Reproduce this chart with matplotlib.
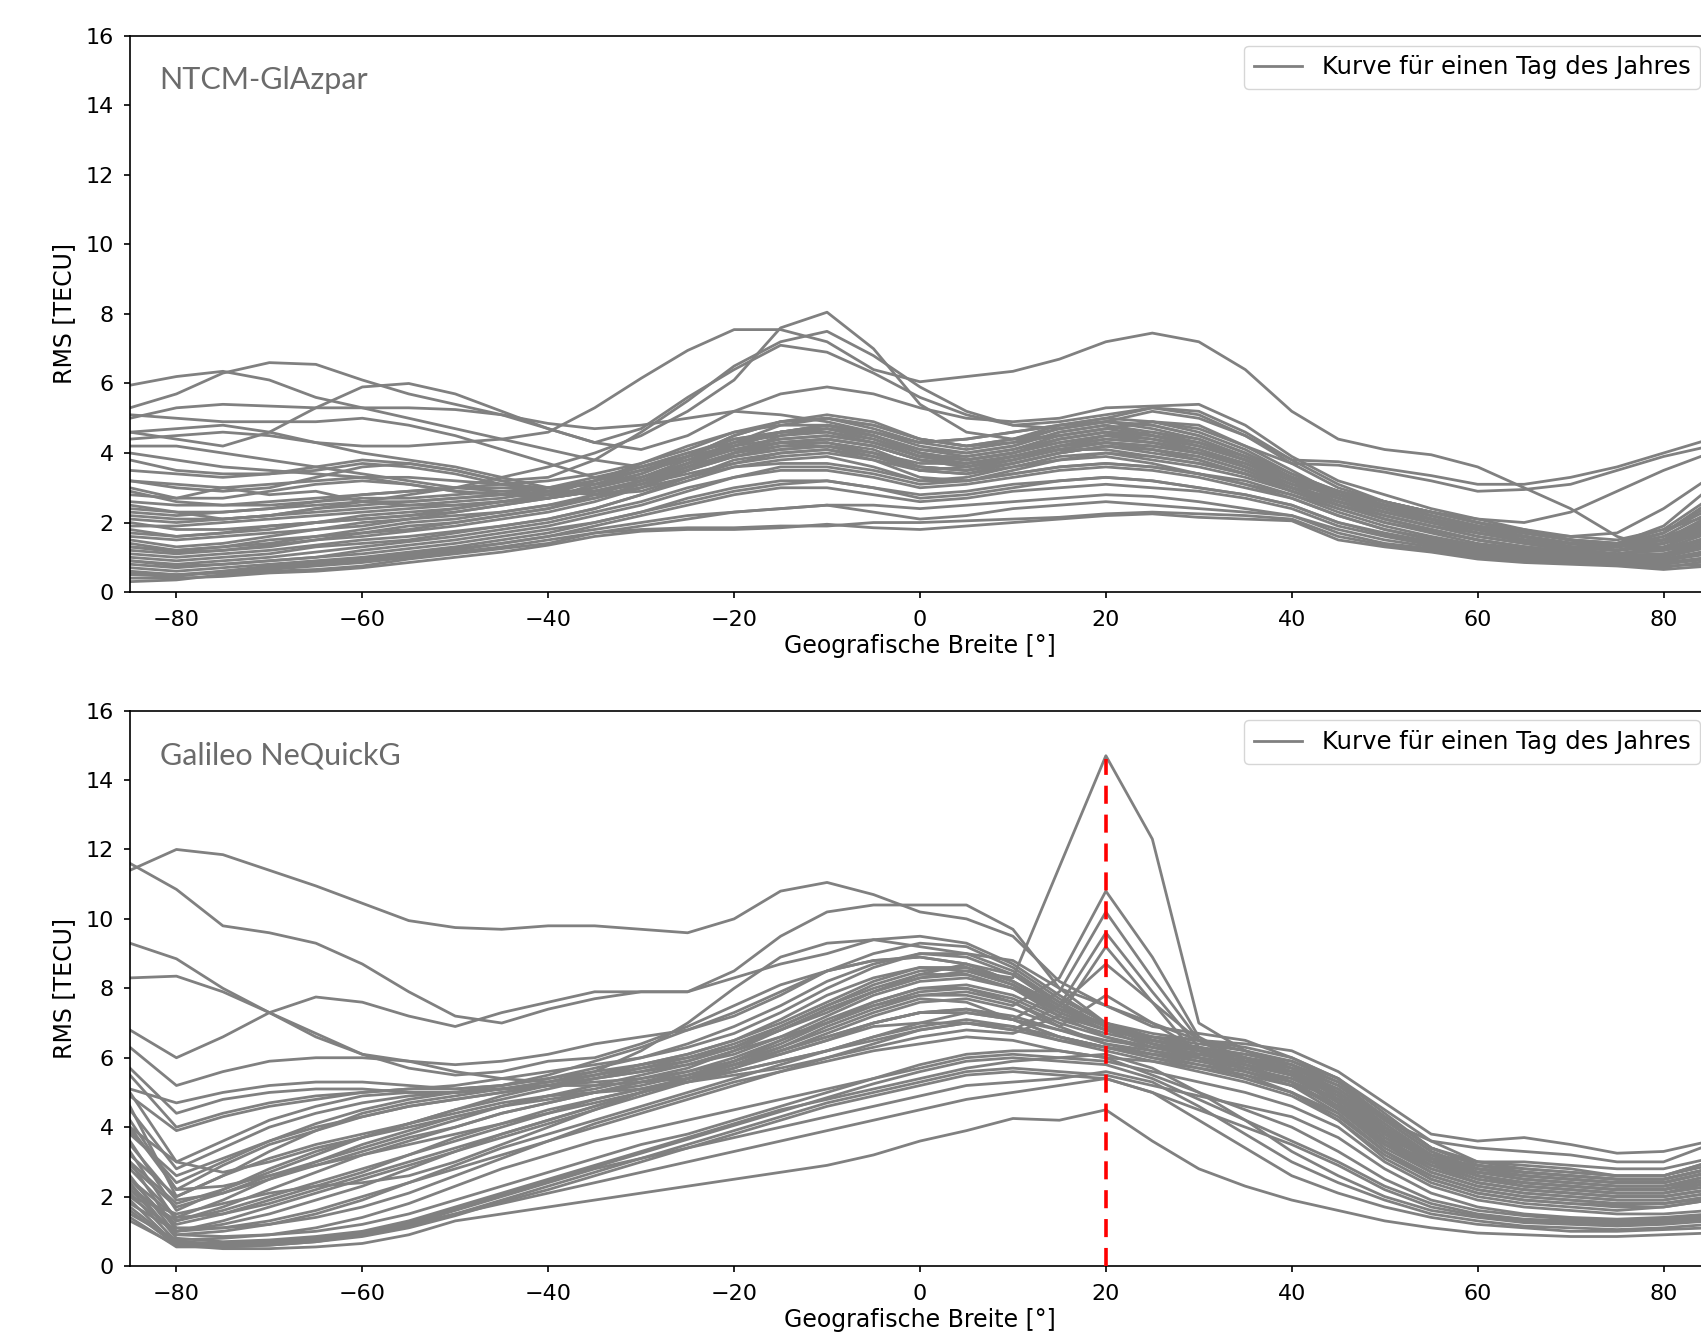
import matplotlib
matplotlib.use('Agg')
import matplotlib.pyplot as plt

# Breitengrade in 5-Grad-Schritten
lat = list(range(-85, 90, 5))

# RMS-Kurven NTCM-GlAzpar (je eine Kurve pro Tag)
ntcm_curves = [
    [5.95, 6.2, 6.35, 6.1, 5.6, 5.3, 5.0, 4.7, 4.4, 4.1, 3.8, 3.6, 3.9, 4.2, 4.6, 4.8, 4.5, 4.0, 3.8, 4.0, 4.3, 4.5, 4.6, 4.4, 3.9, 3.3, 2.8, 2.4, 2.0, 1.8, 1.6, 1.3, 1.2, 1.4, 1.7],
    [5.3, 5.7, 6.3, 6.6, 6.55, 6.1, 5.7, 5.4, 5.1, 4.85, 4.7, 4.8, 5.0, 5.2, 5.1, 4.9, 4.6, 4.3, 4.4, 4.6, 4.8, 4.9, 4.8, 4.5, 4.0, 3.4, 2.9, 2.5, 2.1, 1.8, 1.5, 1.3, 1.2, 1.3, 1.5],
    [4.4, 4.5, 4.6, 4.5, 4.3, 4.2, 4.2, 4.3, 4.4, 4.6, 5.3, 6.15, 6.95, 7.55, 7.55, 7.2, 6.4, 6.05, 6.2, 6.35, 6.7, 7.2, 7.45, 7.2, 6.4, 5.2, 4.4, 4.1, 3.95, 3.6, 3.0, 2.4, 1.6, 1.2, 1.4],
    [2.5, 2.3, 2.1, 2.2, 2.4, 2.6, 2.8, 3.0, 3.3, 3.6, 4.0, 4.5, 5.2, 6.1, 7.6, 8.05, 7.0, 5.4, 4.6, 4.4, 4.5, 4.7, 4.9, 4.7, 4.2, 3.5, 2.8, 2.4, 2.1, 1.8, 1.6, 1.4, 1.3, 1.5, 1.8],
    [3.2, 3.0, 2.9, 3.0, 3.3, 3.6, 3.7, 3.5, 3.2, 3.3, 3.8, 4.6, 5.5, 6.5, 7.2, 7.5, 6.8, 5.9, 5.2, 4.8, 4.9, 5.1, 5.3, 5.1, 4.5, 3.7, 3.0, 2.6, 2.3, 2.0, 1.7, 1.5, 1.3, 1.6, 2.0],
    [4.6, 4.4, 4.2, 4.6, 5.3, 5.9, 6.0, 5.7, 5.2, 4.7, 4.3, 4.7, 5.6, 6.4, 7.1, 6.9, 6.3, 5.6, 5.1, 4.8, 4.7, 4.9, 5.2, 5.0, 4.5, 3.8, 3.1, 2.6, 2.2, 1.9, 1.6, 1.4, 1.3, 1.5, 1.9],
    [5.0, 5.3, 5.4, 5.35, 5.3, 5.3, 5.3, 5.25, 5.1, 4.7, 4.3, 4.1, 4.5, 5.2, 5.7, 5.9, 5.7, 5.3, 5.0, 4.9, 5.0, 5.3, 5.35, 5.4, 4.8, 3.9, 3.2, 2.8, 2.4, 2.1, 1.8, 1.6, 1.5, 1.8, 2.2],
    [3.5, 3.4, 3.3, 3.4, 3.5, 3.7, 3.6, 3.4, 3.1, 2.9, 2.9, 3.1, 3.6, 4.2, 4.6, 4.8, 4.6, 4.3, 4.4, 4.6, 4.8, 5.0, 5.3, 5.2, 4.6, 3.8, 3.75, 3.55, 3.35, 3.1, 3.1, 3.3, 3.6, 4.0, 4.4],
    [2.8, 2.7, 2.7, 2.9, 3.1, 3.2, 3.1, 2.9, 2.8, 2.7, 2.9, 3.2, 3.7, 4.3, 4.8, 5.0, 4.8, 4.4, 4.2, 4.3, 4.5, 4.7, 4.9, 4.8, 4.2, 3.7, 3.65, 3.45, 3.2, 2.9, 2.95, 3.1, 3.5, 3.9, 4.2],
    [0.3, 0.35, 0.5, 0.6, 0.65, 0.75, 0.95, 1.1, 1.25, 1.4, 1.7, 1.8, 1.85, 1.85, 1.9, 1.9, 2.0, 2.0, 2.05, 2.1, 2.15, 2.25, 2.3, 2.25, 2.2, 2.1, 1.6, 1.35, 1.2, 1.0, 0.9, 0.85, 0.8, 0.7, 0.9],
    [0.5, 0.45, 0.6, 0.75, 0.85, 0.95, 1.1, 1.25, 1.4, 1.6, 1.8, 2.0, 2.2, 2.3, 2.4, 2.5, 2.5, 2.4, 2.5, 2.6, 2.7, 2.8, 2.75, 2.6, 2.4, 2.2, 1.8, 1.5, 1.3, 1.1, 1.0, 0.9, 0.85, 0.8, 1.0],
    [0.8, 0.7, 0.8, 0.9, 1.0, 1.1, 1.25, 1.4, 1.6, 1.8, 2.0, 2.3, 2.6, 2.9, 3.1, 3.2, 3.0, 2.8, 2.9, 3.1, 3.2, 3.3, 3.2, 3.0, 2.8, 2.5, 2.0, 1.7, 1.45, 1.2, 1.05, 0.95, 0.9, 0.9, 1.1],
    [1.0, 0.9, 1.0, 1.1, 1.3, 1.4, 1.5, 1.7, 1.9, 2.1, 2.4, 2.8, 3.2, 3.6, 3.8, 3.9, 3.6, 3.2, 3.3, 3.6, 3.8, 3.9, 3.7, 3.4, 3.1, 2.8, 2.3, 1.9, 1.6, 1.35, 1.2, 1.05, 1.0, 1.0, 1.3],
    [1.2, 1.1, 1.2, 1.3, 1.5, 1.7, 1.9, 2.0, 2.2, 2.4, 2.8, 3.2, 3.7, 4.1, 4.3, 4.3, 4.0, 3.5, 3.4, 3.7, 4.0, 4.2, 4.0, 3.8, 3.4, 2.9, 2.5, 2.1, 1.8, 1.5, 1.3, 1.15, 1.05, 1.1, 1.4],
    [1.5, 1.3, 1.4, 1.6, 1.8, 1.9, 2.1, 2.3, 2.5, 2.7, 3.1, 3.5, 3.9, 4.4, 4.6, 4.7, 4.5, 4.0, 3.8, 4.0, 4.4, 4.6, 4.4, 4.1, 3.6, 3.0, 2.6, 2.2, 1.9, 1.6, 1.4, 1.2, 1.1, 1.2, 1.6],
    [1.8, 1.6, 1.7, 1.9, 2.0, 2.2, 2.3, 2.4, 2.6, 2.8, 3.2, 3.7, 4.2, 4.6, 4.8, 4.8, 4.6, 4.2, 4.0, 4.2, 4.6, 4.8, 4.5, 4.2, 3.8, 3.2, 2.7, 2.3, 2.0, 1.7, 1.45, 1.25, 1.1, 1.3, 1.8],
    [2.1, 2.0, 2.1, 2.2, 2.3, 2.4, 2.5, 2.6, 2.7, 2.9, 3.2, 3.5, 3.9, 4.2, 4.4, 4.5, 4.3, 3.9, 3.8, 4.0, 4.3, 4.5, 4.3, 4.1, 3.7, 3.1, 2.8, 2.5, 2.2, 1.9, 1.6, 1.4, 1.2, 1.5, 2.2],
    [0.6, 0.5, 0.55, 0.65, 0.75, 0.85, 1.0, 1.15, 1.3, 1.5, 1.7, 1.9, 2.1, 2.3, 2.4, 2.5, 2.3, 2.1, 2.2, 2.4, 2.5, 2.6, 2.5, 2.4, 2.3, 2.2, 1.7, 1.4, 1.25, 1.05, 0.95, 0.9, 0.85, 0.75, 0.8],
    [0.9, 0.8, 0.9, 1.0, 1.15, 1.3, 1.45, 1.6, 1.8, 2.0, 2.3, 2.6, 3.0, 3.3, 3.5, 3.5, 3.3, 3.0, 3.1, 3.3, 3.5, 3.6, 3.5, 3.3, 3.0, 2.7, 2.2, 1.8, 1.55, 1.3, 1.15, 1.0, 0.95, 0.95, 1.2],
    [1.4, 1.2, 1.3, 1.5, 1.6, 1.8, 2.0, 2.1, 2.3, 2.5, 2.8, 3.2, 3.6, 4.0, 4.2, 4.2, 3.9, 3.5, 3.6, 3.9, 4.1, 4.1, 3.9, 3.7, 3.4, 3.0, 2.5, 2.1, 1.8, 1.5, 1.3, 1.15, 1.1, 1.2, 1.5],
    [2.4, 2.3, 2.3, 2.4, 2.5, 2.6, 2.6, 2.7, 2.8, 3.0, 3.2, 3.5, 3.8, 4.1, 4.3, 4.4, 4.2, 3.8, 3.6, 3.8, 4.1, 4.3, 4.2, 4.0, 3.6, 3.1, 2.8, 2.5, 2.3, 2.0, 1.8, 1.5, 1.3, 1.7, 2.6],
    [2.0, 1.8, 1.8, 1.9, 2.0, 2.1, 2.2, 2.4, 2.6, 2.8, 3.0, 3.4, 3.9, 4.5, 4.9, 5.0, 4.7, 4.3, 4.1, 4.3, 4.7, 4.9, 4.7, 4.4, 3.9, 3.3, 2.9, 2.5, 2.1, 1.8, 1.5, 1.3, 1.2, 1.4, 2.0],
    [3.0, 2.7, 3.0, 2.8, 2.9, 2.6, 2.5, 2.5, 2.6, 2.7, 2.9, 3.2, 3.6, 3.9, 4.1, 4.2, 4.0, 3.6, 3.5, 3.7, 4.0, 4.2, 4.1, 3.9, 3.5, 3.0, 2.7, 2.4, 2.1, 1.8, 1.6, 1.4, 1.3, 1.6, 2.3],
    [4.2, 4.2, 4.0, 3.8, 3.6, 3.4, 3.2, 3.0, 2.9, 2.8, 2.9, 3.1, 3.4, 3.7, 3.9, 4.0, 3.8, 3.5, 3.4, 3.6, 3.9, 4.0, 3.9, 3.7, 3.4, 3.0, 2.6, 2.3, 2.0, 1.8, 1.6, 1.4, 1.3, 1.5, 2.0],
    [4.6, 4.7, 4.8, 4.6, 4.3, 4.0, 3.8, 3.6, 3.3, 3.0, 2.8, 2.9, 3.3, 3.7, 4.0, 4.1, 3.9, 3.6, 3.5, 3.7, 4.0, 4.2, 4.1, 3.8, 3.4, 2.9, 2.5, 2.2, 1.9, 1.7, 1.5, 1.3, 1.2, 1.4, 1.8],
    [5.1, 5.0, 4.9, 4.9, 4.9, 5.0, 4.8, 4.5, 4.1, 3.7, 3.3, 3.2, 3.5, 4.0, 4.3, 4.4, 4.2, 3.8, 3.7, 3.9, 4.2, 4.4, 4.3, 4.0, 3.6, 3.0, 2.6, 2.3, 2.0, 1.7, 1.5, 1.3, 1.2, 1.4, 1.9],
    [3.8, 3.5, 3.4, 3.4, 3.6, 3.8, 3.7, 3.5, 3.2, 2.9, 2.8, 3.0, 3.5, 4.0, 4.5, 4.7, 4.5, 4.1, 3.9, 4.1, 4.4, 4.6, 4.5, 4.2, 3.8, 3.2, 2.8, 2.5, 2.2, 1.9, 1.7, 1.5, 1.4, 1.7, 2.4],
    [2.3, 2.2, 2.3, 2.4, 2.6, 2.8, 2.9, 3.0, 3.0, 3.0, 3.1, 3.3, 3.7, 4.2, 4.6, 4.7, 4.4, 3.9, 3.7, 3.9, 4.2, 4.5, 4.4, 4.2, 3.8, 3.3, 2.8, 2.4, 2.1, 1.8, 1.6, 1.4, 1.3, 1.5, 2.1],
    [1.6, 1.5, 1.6, 1.7, 1.8, 2.0, 2.1, 2.2, 2.3, 2.5, 2.7, 3.0, 3.3, 3.6, 3.7, 3.7, 3.5, 3.2, 3.2, 3.4, 3.6, 3.7, 3.6, 3.4, 3.2, 2.8, 2.4, 2.0, 1.75, 1.5, 1.3, 1.15, 1.05, 1.05, 1.3],
    [0.4, 0.4, 0.45, 0.55, 0.6, 0.7, 0.85, 1.0, 1.15, 1.35, 1.6, 1.75, 1.8, 1.8, 1.85, 1.95, 1.85, 1.8, 1.9, 2.0, 2.1, 2.2, 2.25, 2.15, 2.1, 2.05, 1.5, 1.3, 1.15, 0.95, 0.85, 0.8, 0.75, 0.65, 0.75],
    [1.1, 1.0, 1.1, 1.2, 1.35, 1.5, 1.6, 1.75, 1.9, 2.1, 2.4, 2.8, 3.3, 3.8, 4.0, 4.1, 3.8, 3.3, 3.2, 3.5, 3.8, 4.0, 3.8, 3.6, 3.3, 2.9, 2.4, 2.0, 1.7, 1.4, 1.25, 1.1, 1.0, 1.05, 1.35],
    [2.6, 2.5, 2.5, 2.6, 2.7, 2.8, 2.9, 3.0, 3.1, 3.2, 3.4, 3.7, 4.1, 4.6, 4.9, 5.0, 4.8, 4.4, 4.2, 4.4, 4.8, 5.0, 4.9, 4.6, 4.1, 3.4, 2.9, 2.6, 2.3, 2.0, 1.7, 1.5, 1.4, 1.9, 3.0],
    [3.2, 3.1, 3.0, 3.1, 3.2, 3.3, 3.3, 3.2, 3.1, 3.0, 3.1, 3.4, 3.9, 4.5, 4.9, 5.1, 4.9, 4.4, 4.2, 4.4, 4.7, 4.9, 4.8, 4.5, 4.0, 3.3, 2.9, 2.6, 2.3, 2.1, 2.0, 2.3, 2.9, 3.5, 4.0],
    [1.9, 1.9, 2.0, 2.1, 2.2, 2.3, 2.4, 2.5, 2.6, 2.7, 2.9, 3.2, 3.6, 4.0, 4.3, 4.4, 4.2, 3.8, 3.6, 3.8, 4.1, 4.3, 4.2, 4.0, 3.7, 3.2, 2.7, 2.4, 2.1, 1.85, 1.7, 1.6, 1.7, 2.4, 3.3],
    [0.7, 0.6, 0.7, 0.8, 0.9, 1.0, 1.15, 1.3, 1.5, 1.7, 2.0, 2.3, 2.7, 3.0, 3.2, 3.2, 3.0, 2.7, 2.8, 3.0, 3.2, 3.3, 3.2, 3.0, 2.8, 2.5, 2.0, 1.65, 1.4, 1.2, 1.05, 0.95, 0.9, 0.85, 1.0],
    [1.3, 1.2, 1.3, 1.4, 1.6, 1.7, 1.8, 2.0, 2.2, 2.4, 2.7, 3.1, 3.5, 3.9, 4.1, 4.2, 4.0, 3.7, 3.7, 3.9, 4.2, 4.3, 4.2, 4.0, 3.6, 3.1, 2.6, 2.2, 1.9, 1.6, 1.4, 1.2, 1.1, 1.25, 1.7],
    [0.55, 0.5, 0.6, 0.7, 0.8, 0.9, 1.05, 1.2, 1.4, 1.6, 1.9, 2.2, 2.5, 2.8, 3.0, 3.0, 2.8, 2.6, 2.7, 2.9, 3.0, 3.1, 3.0, 2.9, 2.7, 2.4, 1.9, 1.6, 1.35, 1.15, 1.0, 0.9, 0.85, 0.8, 0.95],
    [1.7, 1.6, 1.7, 1.8, 2.0, 2.1, 2.2, 2.3, 2.5, 2.7, 3.0, 3.3, 3.7, 4.1, 4.4, 4.5, 4.3, 3.9, 3.9, 4.1, 4.5, 4.7, 4.5, 4.3, 3.9, 3.3, 2.7, 2.3, 2.0, 1.7, 1.5, 1.3, 1.2, 1.4, 1.9],
    [2.2, 2.1, 2.1, 2.2, 2.4, 2.5, 2.6, 2.7, 2.8, 2.9, 3.2, 3.6, 4.0, 4.4, 4.6, 4.6, 4.4, 4.0, 3.8, 4.0, 4.4, 4.6, 4.5, 4.3, 3.9, 3.3, 2.9, 2.6, 2.3, 2.0, 1.75, 1.5, 1.35, 1.7, 2.5],
    [2.9, 2.6, 2.5, 2.5, 2.6, 2.7, 2.7, 2.8, 2.9, 3.0, 3.3, 3.6, 4.0, 4.3, 4.5, 4.6, 4.3, 3.9, 3.7, 3.9, 4.2, 4.4, 4.3, 4.1, 3.7, 3.2, 2.8, 2.5, 2.2, 1.9, 1.7, 1.5, 1.4, 1.8, 2.7],
    [0.9, 0.75, 0.8, 0.9, 1.0, 1.2, 1.35, 1.5, 1.7, 1.9, 2.2, 2.5, 2.9, 3.3, 3.6, 3.6, 3.4, 3.1, 3.2, 3.4, 3.6, 3.7, 3.6, 3.4, 3.1, 2.7, 2.2, 1.8, 1.5, 1.25, 1.1, 1.0, 0.95, 0.9, 1.15],
    [4.0, 3.8, 3.6, 3.5, 3.4, 3.3, 3.1, 2.9, 2.8, 2.8, 3.0, 3.3, 3.8, 4.3, 4.6, 4.8, 4.5, 4.1, 4.0, 4.2, 4.6, 4.8, 4.6, 4.3, 3.8, 3.2, 2.8, 2.4, 2.1, 1.85, 1.6, 1.4, 1.3, 1.5, 2.1],
    [1.3, 1.15, 1.2, 1.35, 1.5, 1.6, 1.75, 1.9, 2.1, 2.3, 2.6, 3.0, 3.5, 3.9, 4.2, 4.3, 4.1, 3.6, 3.5, 3.8, 4.1, 4.3, 4.1, 3.9, 3.5, 3.0, 2.5, 2.1, 1.8, 1.5, 1.3, 1.15, 1.05, 1.1, 1.45],
]

# RMS-Kurven Galileo NeQuickG
nequick_curves = [
    [11.4, 12.0, 11.85, 11.4, 10.95, 10.45, 9.95, 9.75, 9.7, 9.8, 9.8, 9.7, 9.6, 10.0, 10.8, 11.05, 10.7, 10.2, 10.0, 9.5, 8.2, 7.5, 6.9, 6.7, 6.5, 6.0, 5.4, 4.2, 3.6, 3.4, 3.3, 3.2, 3.0, 3.0, 3.5],
    [11.6, 10.85, 9.8, 9.6, 9.3, 8.7, 7.9, 7.2, 7.0, 7.4, 7.7, 7.9, 7.9, 8.5, 9.5, 10.2, 10.4, 10.4, 10.4, 9.7, 8.0, 7.5, 7.0, 6.5, 6.2, 5.7, 4.8, 3.8, 3.2, 3.0, 2.9, 2.8, 2.6, 2.6, 3.0],
    [9.3, 8.85, 8.0, 7.3, 6.6, 6.1, 5.9, 5.6, 5.4, 5.3, 5.6, 6.2, 7.0, 8.0, 8.9, 9.3, 9.4, 9.2, 9.0, 8.8, 8.0, 7.0, 6.5, 6.3, 6.0, 5.5, 4.6, 3.6, 3.0, 2.8, 2.7, 2.6, 2.5, 2.5, 2.8],
    [8.3, 8.35, 7.9, 7.3, 6.7, 6.1, 5.7, 5.5, 5.6, 5.9, 6.0, 6.4, 6.9, 7.5, 8.1, 8.5, 8.8, 8.9, 8.7, 8.2, 7.5, 6.9, 6.4, 6.0, 5.7, 5.3, 4.5, 3.5, 2.9, 2.7, 2.6, 2.5, 2.4, 2.4, 2.7],
    [6.8, 6.0, 6.6, 7.3, 7.75, 7.6, 7.2, 6.9, 7.3, 7.6, 7.9, 7.9, 7.9, 8.3, 8.7, 9.0, 9.4, 9.5, 9.3, 8.7, 7.8, 7.0, 6.6, 6.3, 6.0, 5.6, 4.7, 3.7, 3.1, 2.9, 2.8, 2.7, 2.6, 2.6, 3.0],
    [5.0, 3.0, 2.7, 3.0, 3.4, 3.7, 4.0, 4.3, 4.6, 4.9, 5.1, 5.4, 5.7, 6.2, 6.8, 7.4, 7.9, 8.3, 8.5, 8.3, 11.5, 14.7, 12.3, 7.0, 6.2, 5.8, 5.0, 3.9, 3.1, 2.6, 2.4, 2.3, 2.2, 2.2, 2.5],
    [4.0, 2.2, 2.3, 2.6, 2.9, 3.2, 3.5, 3.8, 4.1, 4.4, 4.7, 5.0, 5.4, 5.9, 6.5, 7.0, 7.5, 7.8, 7.8, 7.5, 8.3, 10.8, 8.9, 6.6, 5.9, 5.5, 4.7, 3.6, 2.9, 2.5, 2.3, 2.2, 2.1, 2.1, 2.3],
    [2.5, 1.4, 1.5, 1.8, 2.2, 2.6, 3.0, 3.4, 3.8, 4.2, 4.6, 5.0, 5.4, 5.8, 6.2, 6.6, 7.0, 7.3, 7.3, 7.1, 7.9, 10.2, 8.3, 6.5, 5.8, 5.3, 4.5, 3.4, 2.7, 2.3, 2.1, 2.0, 1.9, 1.9, 2.1],
    [3.5, 1.9, 2.1, 2.5, 2.9, 3.3, 3.7, 4.0, 4.4, 4.7, 5.0, 5.3, 5.5, 5.8, 6.1, 6.5, 6.9, 7.0, 7.0, 6.8, 7.5, 9.6, 7.9, 6.3, 5.6, 5.2, 4.4, 3.3, 2.6, 2.2, 2.0, 1.9, 1.8, 1.8, 2.0],
    [2.0, 1.0, 1.1, 1.3, 1.6, 2.0, 2.4, 2.8, 3.2, 3.6, 4.0, 4.4, 4.8, 5.2, 5.6, 6.0, 6.3, 6.6, 6.8, 6.7, 7.2, 9.2, 7.6, 6.0, 5.4, 5.0, 4.2, 3.1, 2.4, 2.0, 1.8, 1.7, 1.6, 1.7, 1.9],
    [4.0, 3.0, 3.6, 4.2, 4.6, 4.9, 5.0, 5.0, 5.1, 5.2, 5.3, 5.4, 5.6, 5.9, 6.3, 6.8, 7.3, 7.7, 7.6, 7.1, 6.6, 6.3, 6.0, 5.8, 5.5, 5.0, 4.4, 3.3, 2.6, 2.2, 2.0, 1.9, 1.8, 1.8, 2.0],
    [5.1, 4.7, 5.0, 5.2, 5.3, 5.3, 5.2, 5.1, 5.2, 5.4, 5.6, 5.8, 6.0, 6.3, 6.8, 7.4, 7.9, 8.3, 8.4, 8.0, 7.2, 6.6, 6.2, 5.9, 5.6, 5.2, 4.6, 3.5, 2.8, 2.4, 2.2, 2.1, 2.0, 2.0, 2.2],
    [3.2, 2.0, 2.6, 3.1, 3.5, 3.8, 4.1, 4.4, 4.7, 4.9, 5.0, 5.1, 5.3, 5.5, 5.7, 6.0, 6.4, 6.8, 7.0, 6.8, 6.5, 6.2, 5.9, 5.6, 5.3, 4.9, 4.2, 3.2, 2.5, 2.1, 1.9, 1.8, 1.7, 1.7, 1.9],
    [2.8, 1.4, 1.9, 2.5, 3.0, 3.5, 3.9, 4.3, 4.6, 4.8, 5.0, 5.2, 5.5, 5.9, 6.4, 7.0, 7.6, 8.0, 8.0, 7.6, 6.9, 6.4, 6.1, 5.8, 5.6, 5.3, 4.8, 3.9, 3.0, 2.5, 2.3, 2.2, 2.1, 2.1, 2.4],
    [2.3, 1.2, 1.5, 1.9, 2.3, 2.7, 3.2, 3.7, 4.1, 4.5, 4.8, 5.1, 5.4, 5.8, 6.3, 6.9, 7.4, 7.8, 7.9, 7.6, 7.0, 6.6, 6.3, 6.1, 5.9, 5.6, 5.0, 4.0, 3.1, 2.6, 2.3, 2.2, 2.1, 2.1, 2.3],
    [1.8, 1.0, 1.2, 1.5, 1.9, 2.3, 2.8, 3.3, 3.8, 4.2, 4.6, 5.0, 5.3, 5.6, 5.9, 6.2, 6.5, 6.8, 7.0, 6.9, 6.6, 6.3, 6.1, 5.9, 5.7, 5.4, 4.8, 3.7, 2.9, 2.4, 2.2, 2.1, 2.0, 2.0, 2.2],
    [2.5, 1.1, 1.1, 1.2, 1.4, 1.7, 2.1, 2.6, 3.1, 3.6, 4.1, 4.5, 4.9, 5.3, 5.6, 5.9, 6.2, 6.4, 6.6, 6.5, 6.2, 6.0, 5.9, 5.7, 5.5, 5.2, 4.6, 3.5, 2.7, 2.3, 2.1, 2.0, 1.9, 1.9, 2.1],
    [2.1, 0.7, 0.65, 0.7, 0.8, 0.95, 1.2, 1.5, 1.8, 2.1, 2.4, 2.7, 3.0, 3.3, 3.6, 3.9, 4.2, 4.5, 4.8, 5.0, 5.2, 5.4, 5.0, 4.2, 3.4, 2.6, 2.1, 1.7, 1.4, 1.2, 1.1, 1.0, 1.0, 1.05, 1.1],
    [2.4, 0.8, 0.7, 0.75, 0.85, 1.0, 1.3, 1.7, 2.1, 2.5, 2.9, 3.3, 3.7, 4.1, 4.5, 4.8, 5.1, 5.4, 5.7, 5.9, 6.0, 6.1, 5.7, 5.0, 4.2, 3.3, 2.6, 2.0, 1.6, 1.4, 1.25, 1.2, 1.15, 1.2, 1.3],
    [1.6, 0.6, 0.55, 0.6, 0.7, 0.9, 1.2, 1.6, 2.0, 2.4, 2.8, 3.1, 3.4, 3.7, 4.0, 4.3, 4.6, 4.9, 5.2, 5.3, 5.4, 5.6, 5.3, 4.6, 3.8, 3.0, 2.4, 1.9, 1.5, 1.3, 1.15, 1.1, 1.05, 1.1, 1.2],
    [1.9, 0.6, 0.5, 0.5, 0.55, 0.65, 0.9, 1.3, 1.5, 1.7, 1.9, 2.1, 2.3, 2.5, 2.7, 2.9, 3.2, 3.6, 3.9, 4.25, 4.2, 4.5, 3.6, 2.8, 2.3, 1.9, 1.6, 1.3, 1.1, 0.95, 0.9, 0.85, 0.85, 0.9, 0.95],
    [3.6, 1.6, 2.2, 2.8, 3.3, 3.7, 4.1, 4.5, 4.8, 5.1, 5.4, 5.6, 5.9, 6.3, 6.8, 7.3, 7.9, 8.4, 8.7, 8.4, 7.6, 6.9, 6.4, 6.1, 5.8, 5.5, 5.0, 4.0, 3.1, 2.6, 2.4, 2.3, 2.2, 2.2, 2.5],
    [6.3, 5.2, 5.6, 5.9, 6.0, 6.0, 5.9, 5.8, 5.9, 6.1, 6.4, 6.6, 6.8, 7.2, 7.8, 8.5, 9.0, 9.3, 9.2, 8.6, 7.7, 7.0, 6.5, 6.2, 5.9, 5.5, 4.9, 3.8, 3.0, 2.6, 2.4, 2.3, 2.2, 2.2, 2.5],
    [4.9, 3.9, 4.3, 4.6, 4.8, 5.0, 5.1, 5.2, 5.4, 5.6, 5.8, 6.0, 6.3, 6.7, 7.3, 8.0, 8.6, 9.0, 9.0, 8.5, 7.6, 6.9, 6.4, 6.1, 5.9, 5.6, 5.1, 4.2, 3.3, 2.8, 2.6, 2.5, 2.4, 2.4, 2.7],
    [5.7, 4.4, 4.8, 5.0, 5.1, 5.1, 5.0, 5.0, 5.2, 5.5, 5.9, 6.3, 6.8, 7.3, 7.9, 8.5, 8.8, 8.9, 8.7, 8.2, 7.4, 6.8, 6.3, 6.0, 5.8, 5.5, 5.0, 4.0, 3.2, 2.7, 2.5, 2.4, 2.3, 2.3, 2.6],
    [3.9, 2.4, 3.0, 3.6, 4.1, 4.5, 4.8, 5.0, 5.1, 5.2, 5.2, 5.3, 5.4, 5.6, 5.9, 6.2, 6.6, 7.0, 7.3, 7.1, 6.8, 6.5, 6.3, 6.1, 5.9, 5.7, 5.2, 4.3, 3.4, 2.9, 2.7, 2.6, 2.5, 2.5, 2.8],
    [3.0, 1.8, 2.2, 2.7, 3.2, 3.7, 4.1, 4.5, 4.9, 5.2, 5.5, 5.8, 6.1, 6.5, 7.0, 7.6, 8.2, 8.6, 8.6, 8.1, 7.3, 6.8, 6.5, 6.3, 6.1, 5.8, 5.2, 4.2, 3.3, 2.8, 2.6, 2.5, 2.4, 2.4, 2.7],
    [1.5, 0.75, 0.8, 0.9, 1.1, 1.4, 1.8, 2.3, 2.8, 3.2, 3.6, 3.9, 4.2, 4.5, 4.8, 5.1, 5.4, 5.7, 6.0, 6.1, 6.0, 5.9, 5.6, 5.3, 5.0, 4.6, 4.0, 3.0, 2.3, 1.9, 1.7, 1.6, 1.5, 1.5, 1.6],
    [2.6, 0.9, 0.85, 0.9, 1.0, 1.2, 1.5, 1.9, 2.3, 2.7, 3.1, 3.5, 3.8, 4.2, 4.6, 5.0, 5.4, 5.8, 6.1, 6.2, 6.2, 6.0, 5.5, 5.0, 4.5, 4.0, 3.3, 2.5, 1.9, 1.6, 1.45, 1.35, 1.3, 1.35, 1.45],
    [4.5, 2.8, 3.4, 4.0, 4.4, 4.7, 4.9, 5.0, 5.1, 5.3, 5.5, 5.8, 6.1, 6.5, 7.1, 7.8, 8.3, 8.6, 8.5, 8.1, 7.4, 6.9, 6.6, 6.4, 6.2, 5.9, 5.4, 4.5, 3.6, 3.0, 2.8, 2.7, 2.6, 2.6, 2.9],
    [3.3, 1.3, 1.6, 2.0, 2.4, 2.8, 3.2, 3.6, 4.0, 4.4, 4.8, 5.1, 5.4, 5.7, 6.1, 6.5, 7.0, 7.3, 7.4, 7.1, 6.6, 6.3, 6.1, 6.0, 5.8, 5.5, 5.0, 4.1, 3.2, 2.7, 2.5, 2.4, 2.3, 2.3, 2.5],
    [1.3, 0.6, 0.6, 0.65, 0.75, 0.9, 1.15, 1.5, 1.9, 2.3, 2.7, 3.1, 3.5, 3.9, 4.3, 4.7, 5.0, 5.3, 5.6, 5.7, 5.6, 5.5, 5.2, 4.9, 4.6, 4.3, 3.7, 2.8, 2.1, 1.7, 1.5, 1.4, 1.35, 1.4, 1.5],
    [2.2, 1.3, 1.7, 2.2, 2.7, 3.2, 3.6, 4.0, 4.4, 4.7, 5.0, 5.3, 5.6, 6.0, 6.5, 7.1, 7.6, 8.0, 8.1, 7.8, 7.2, 6.8, 6.6, 6.5, 6.4, 6.2, 5.6, 4.7, 3.8, 3.6, 3.7, 3.5, 3.25, 3.3, 3.6],
    [4.2, 2.2, 2.9, 3.5, 3.9, 4.3, 4.6, 4.8, 5.0, 5.2, 5.4, 5.6, 5.8, 6.1, 6.6, 7.2, 7.8, 8.2, 8.3, 8.0, 7.4, 7.0, 6.7, 6.5, 6.3, 6.0, 5.4, 4.4, 3.4, 3.0, 3.0, 2.9, 2.8, 2.8, 3.1],
    [2.0, 1.5, 1.8, 2.1, 2.3, 2.4, 2.6, 3.0, 3.5, 4.0, 4.5, 5.0, 5.4, 5.8, 6.2, 6.6, 7.0, 7.3, 7.4, 7.2, 6.8, 6.4, 6.2, 6.0, 5.7, 5.4, 4.8, 3.8, 3.0, 2.6, 2.4, 2.3, 2.2, 2.2, 2.4],
    [3.0, 1.0, 1.3, 1.7, 2.1, 2.5, 2.9, 3.3, 3.7, 4.1, 4.5, 4.9, 5.3, 5.7, 6.2, 6.7, 7.2, 7.6, 7.7, 7.4, 6.9, 7.8, 7.0, 6.2, 5.7, 5.3, 4.6, 3.6, 2.8, 2.4, 2.2, 2.1, 2.0, 2.0, 2.2],
    [4.6, 2.0, 2.6, 3.3, 3.9, 4.4, 4.7, 4.9, 5.1, 5.3, 5.5, 5.7, 5.9, 6.3, 6.9, 7.5, 8.1, 8.5, 8.6, 8.2, 7.5, 8.7, 7.6, 6.5, 6.0, 5.6, 4.9, 3.9, 3.1, 2.7, 2.5, 2.4, 2.3, 2.3, 2.6],
    [1.7, 0.65, 0.6, 0.65, 0.75, 0.95, 1.25, 1.65, 2.05, 2.45, 2.85, 3.25, 3.65, 4.05, 4.45, 4.85, 5.25, 5.6, 5.9, 6.0, 5.9, 5.8, 5.4, 4.8, 4.2, 3.6, 3.0, 2.3, 1.8, 1.5, 1.35, 1.3, 1.25, 1.3, 1.4],
    [2.9, 1.7, 2.1, 2.6, 3.0, 3.4, 3.8, 4.2, 4.6, 4.9, 5.2, 5.5, 5.8, 6.2, 6.6, 7.0, 7.5, 7.9, 8.0, 7.7, 7.1, 6.7, 6.4, 6.2, 6.0, 5.8, 5.3, 4.3, 3.4, 2.9, 2.7, 2.6, 2.5, 2.5, 2.8],
    [5.5, 4.0, 4.4, 4.7, 4.9, 5.0, 5.1, 5.1, 5.2, 5.4, 5.7, 6.0, 6.4, 6.9, 7.5, 8.2, 8.7, 9.0, 8.9, 8.4, 7.5, 6.9, 6.5, 6.2, 6.0, 5.7, 5.1, 4.1, 3.2, 2.8, 2.6, 2.5, 2.4, 2.4, 2.7],
    [2.2, 0.9, 1.0, 1.2, 1.5, 1.9, 2.4, 2.9, 3.4, 3.8, 4.2, 4.6, 5.0, 5.4, 5.8, 6.2, 6.6, 6.9, 7.1, 6.9, 6.5, 6.3, 6.0, 5.7, 5.4, 5.0, 4.3, 3.3, 2.5, 2.1, 1.9, 1.8, 1.75, 1.8, 1.95],
    [1.4, 0.55, 0.55, 0.6, 0.7, 0.85, 1.1, 1.45, 1.85, 2.2, 2.6, 3.0, 3.4, 3.8, 4.2, 4.6, 4.9, 5.2, 5.5, 5.6, 5.5, 5.4, 5.0, 4.5, 4.0, 3.5, 2.9, 2.2, 1.7, 1.45, 1.3, 1.25, 1.2, 1.25, 1.35],
    [3.8, 2.6, 3.1, 3.6, 4.0, 4.3, 4.6, 4.8, 5.0, 5.2, 5.4, 5.7, 6.0, 6.4, 6.9, 7.5, 8.0, 8.4, 8.4, 8.0, 7.3, 6.8, 6.5, 6.3, 6.1, 5.9, 5.3, 4.3, 3.4, 2.9, 2.7, 2.6, 2.5, 2.5, 2.8],
]

peak_lat = 20
peak_value = 14.6

titles = ['NTCM-GlAzpar', 'Galileo NeQuickG']
legend_label = 'Kurve für einen Tag des Jahres'

plt.rcParams['font.size'] = 16
plt.rcParams['axes.labelsize'] = 17
plt.rcParams['axes.linewidth'] = 1.2
plt.rcParams['xtick.major.size'] = 4.5
plt.rcParams['ytick.major.size'] = 4.5
plt.rcParams['xtick.major.width'] = 1.2
plt.rcParams['ytick.major.width'] = 1.2
plt.rcParams['xtick.major.pad'] = 8.5
plt.rcParams['ytick.major.pad'] = 7

fig = plt.figure(figsize=(17.01, 13.38), dpi=100)
ax1 = fig.add_axes([0.0764, 0.5575, 0.9289, 0.4157])
ax2 = fig.add_axes([0.0764, 0.0538, 0.9289, 0.4151])

for ax, curves, title in zip([ax1, ax2], [ntcm_curves, nequick_curves], titles):
    for k, c in enumerate(curves):
        ax.plot(lat, c, color='grey', lw=2.0,
                label=legend_label if k == 0 else None)
    ax.set_xlim(-85, 85)
    ax.set_ylim(0, 16)
    ax.set_xticks([-80, -60, -40, -20, 0, 20, 40, 60, 80])
    ax.set_yticks([0, 2, 4, 6, 8, 10, 12, 14, 16])
    ax.set_xlabel('Geografische Breite [°]', labelpad=3)
    ax.set_ylabel('RMS [TECU]', labelpad=7)
    ax.legend(loc='upper right', fontsize=17.5, borderaxespad=0.4)
    ax.text(0.0187, 0.92, title, transform=ax.transAxes, family='Lato',
            fontsize=22, color='#6b6b6b', va='center', ha='left')

ax2.plot([peak_lat, peak_lat], [0, peak_value], color='red', lw=2.6,
         linestyle=(0, (5, 3)), zorder=5)

fig.savefig('out.png', dpi=100)
